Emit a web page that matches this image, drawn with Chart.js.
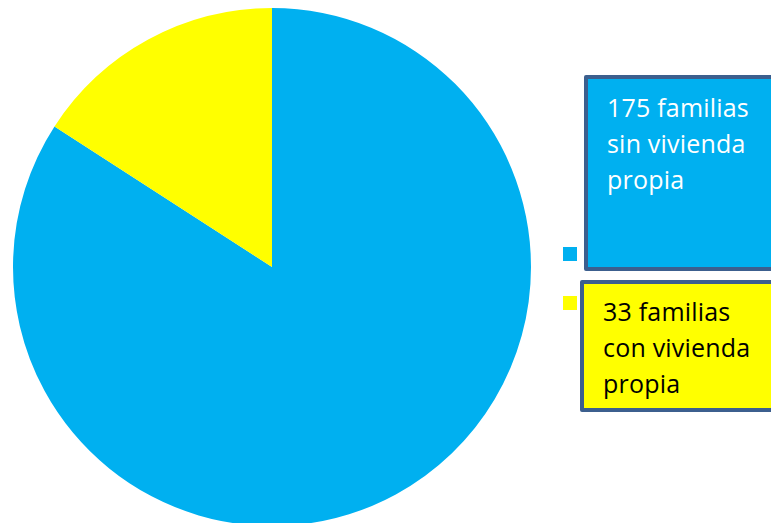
<!DOCTYPE html>
<html>
<head>
<meta charset="utf-8">
<script src="https://cdn.jsdelivr.net/npm/chart.js@4/dist/chart.umd.min.js"></script>
<style>
  html, body { margin: 0; padding: 0; width: 771px; height: 523px; overflow: hidden; background: #fff; }
  #wrap { position: absolute; left: 0; top: 0; width: 771px; height: 540px; }
  .lbox { position: absolute; box-sizing: border-box; border: 4px solid #3C5F8E; border-radius: 2px;
          font-family: "Open Sans", "Noto Sans", sans-serif; font-size: 25px; letter-spacing: 0.2px; line-height: 36px; padding-left: 19px; white-space: nowrap; }
  .sq { position: absolute; width: 14px; height: 14px; }
</style>
</head>
<body>
<div id="wrap"><canvas id="c" width="771" height="540"></canvas></div>
<div id="legend"></div>
<script>
const categories = ["175 familias sin vivienda propia", "33 familias con vivienda propia"];
const legendLines = [["175 familias", "sin vivienda", "propia"], ["33 familias", "con vivienda", "propia"]];
const values = [175, 33];
const colors = ["#00B0F0", "#FFFF00"];

new Chart(document.getElementById('c'), {
  type: 'pie',
  data: {
    labels: categories,
    datasets: [{ data: values, backgroundColor: colors, borderWidth: 0 }]
  },
  options: {
    responsive: false,
    animation: false,
    layout: { padding: { left: 13, right: 240, top: 8, bottom: 14 } },
    plugins: { legend: { display: false }, tooltip: { enabled: false } }
  }
});

const boxes = [
  { left: 584, top: 75, height: 196, padTop: 10, color: "#FFFFFF", sqTop: 247 },
  { left: 580, top: 280, height: 132, padTop: 9, color: "#000000", sqTop: 296 }
];
const legend = document.getElementById('legend');
boxes.forEach((b, i) => {
  const d = document.createElement('div');
  d.className = 'lbox';
  d.style.left = b.left + 'px';
  d.style.top = b.top + 'px';
  d.style.width = (800 - b.left) + 'px';
  d.style.height = b.height + 'px';
  d.style.background = colors[i];
  d.style.color = b.color;
  d.style.paddingTop = b.padTop + 'px';
  d.innerHTML = legendLines[i].map(s => '<div>' + s + '</div>').join('');
  legend.appendChild(d);
  const s = document.createElement('div');
  s.className = 'sq';
  s.style.left = '563px';
  s.style.top = b.sqTop + 'px';
  s.style.background = colors[i];
  legend.appendChild(s);
});
</script>
</body>
</html>
